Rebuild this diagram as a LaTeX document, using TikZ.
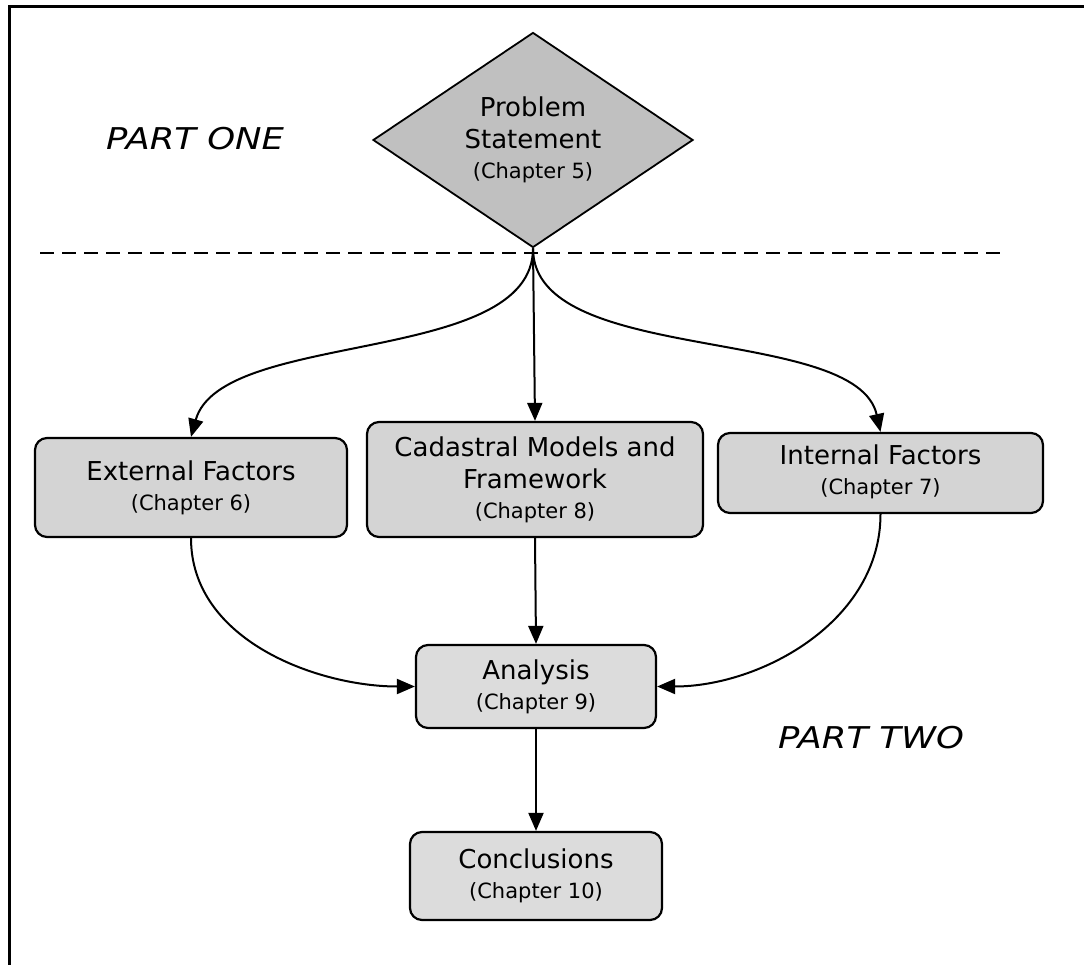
\documentclass[tikz,border=0pt]{standalone}
\usepackage{fontspec}
\setmainfont{DejaVu Sans}
\usetikzlibrary{shapes.geometric,arrows.meta}
\definecolor{dia}{HTML}{C0C0C0}
\definecolor{boxA}{HTML}{D4D4D4}
\definecolor{boxB}{HTML}{DCDCDC}
\newcommand{\subf}{\fontsize{21}{26}\selectfont}
\begin{document}
\begin{tikzpicture}[x=1pt,y=-1pt,
  box/.style={draw=black, line width=2.2pt, rounded corners=12pt, align=center,
    inner sep=0pt, font=\fontsize{26}{32}\selectfont},
  dia/.style={diamond, draw=black, line width=1.8pt, fill=dia, aspect=1.49,
    minimum width=320pt, minimum height=215pt, inner sep=0pt, align=center,
    font=\fontsize{26}{32}\selectfont},
  part/.style={font=\fontsize{30}{36}\selectfont\itshape},
  conn/.style={line width=2pt, -{Triangle[length=18pt,width=15pt]}}
]
\useasboundingbox (0,0) rectangle (1084,965);
% frame
\coordinate (fa) at (9,965);
\coordinate (fb) at (9,7);
\coordinate (fc) at (1084,7);
\draw[line width=3pt] (fa) -- (fb) -- (fc);
% part labels
\node[part] (p1) at (195,139) {\scalebox{1.18}[1]{PART ONE}};
\node[part] (p2) at (871,738) {\scalebox{1.18}[1]{PART TWO}};
% dashed separator
\coordinate (da) at (40,253);
\coordinate (db) at (1000,253);
\draw[line width=2pt, dash pattern=on 14pt off 8pt] (da) -- (db);
% nodes
\node[dia] (ps) at (533,140) {Problem\\Statement\\[-2pt]{\subf (Chapter 5)}};
\node[box, fill=boxA, minimum width=312pt, minimum height=99pt] (ext) at (191,487.5)
  {External Factors\\[-2pt]{\subf (Chapter 6)}};
\node[box, fill=boxA, minimum width=336pt, minimum height=115pt] (cad) at (535,479.5)
  {Cadastral Models and\\Framework\\[-2pt]{\subf (Chapter 8)}};
\node[box, fill=boxA, minimum width=325pt, minimum height=80pt] (int) at (880.5,473)
  {\raisebox{-5pt}{\begin{tabular}{@{}c@{}}Internal Factors\\[-2pt]{\subf (Chapter 7)}\end{tabular}}};
\node[box, fill=boxB, minimum width=240pt, minimum height=83pt] (ana) at (536,686.5)
  {Analysis\\[-2pt]{\subf (Chapter 9)}};
\node[box, fill=boxB, minimum width=252pt, minimum height=88pt] (con) at (536,876)
  {Conclusions\\[-2pt]{\subf (Chapter 10)}};
% connectors
\draw[conn] (ps.south) -- (cad.north);
\draw[conn] (ps.south) .. controls +(0,118) and +(30,-108) .. (ext.north);
\draw[conn] (ps.south) .. controls +(0,118) and +(-24,-108) .. (int.north);
\draw[conn] (ext.south) .. controls +(0,103) and +(-96,0) .. (ana.west);
\draw[conn] (cad.south) -- (ana.north);
\draw[conn] (int.south) .. controls +(0,107) and +(104,0) .. (ana.east);
\draw[conn] (ana.south) -- (con.north);
\end{tikzpicture}
\end{document}
